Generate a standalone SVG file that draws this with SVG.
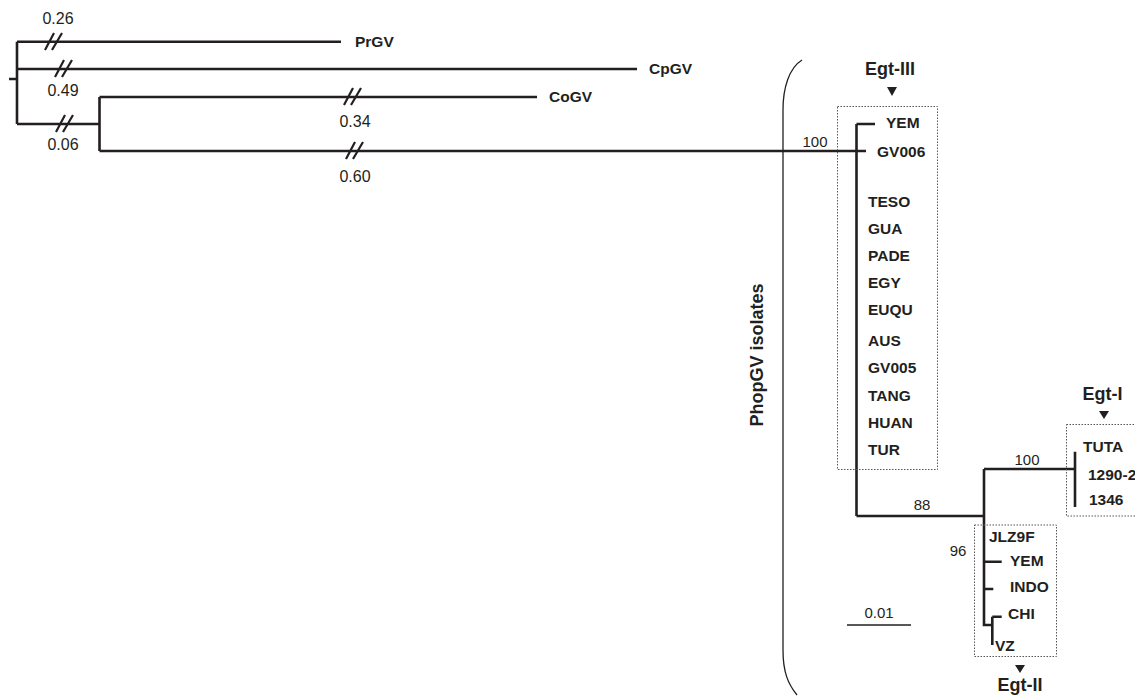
<svg xmlns="http://www.w3.org/2000/svg" width="1135" height="696" viewBox="0 0 1135 696">
<style>
.br{stroke:#231f20;stroke-width:2.6;fill:none;stroke-linecap:butt}
.sl{stroke:#231f20;stroke-width:2.2;fill:none}
.box{stroke:#555;stroke-width:1;fill:none;stroke-dasharray:1.5,1.5}
.num{font-family:"Liberation Sans",Arial,sans-serif;font-size:15px;fill:#231f20}
.bl{font-family:"Liberation Sans",Arial,sans-serif;font-size:16px;fill:#231f20}
.tx{font-family:"Liberation Sans",Arial,sans-serif;font-size:15.5px;font-weight:bold;fill:#231f20}
.big{font-family:"Liberation Sans",Arial,sans-serif;font-size:18px;font-weight:bold;fill:#231f20}
.tri{fill:#231f20}
</style>
<rect width="1135" height="696" fill="#fff"/>
<g id="connectors">
<path class="br" d="M9 79H17M17 41.7V124M17 41.7H341M17 69H637M17 124H99.5M99.5 97V151M99.5 97H537M99.5 151H866"/>
<path class="br" d="M856.5 124V516M856.5 124H875M856.5 516H984M984 469V625H992.3M984 469H1075M1075 451.7V507M984 561.7H1001.7M984 589H993.3M992.3 616.7V645M992.3 616.7H1001.7"/>
<path class="br" d="M847 625H911" style="stroke-width:1.6"/>
<g id="breaks">
<path class="sl" d="M45 50L54 33M52 50L62 33"/>
<path class="sl" d="M55 77L64 60M62 77L72 60"/>
<path class="sl" d="M56 132L65 115M63 132L73 115"/>
<path class="sl" d="M344 105L353 88M351 105L361 88"/>
<path class="sl" d="M346 159L355 142M353 159L363 142"/>
</g>
<path d="M802 60C789 68 783 88 783 110L783 650C783 672 788 684 797 695" stroke="#231f20" stroke-width="1.3" fill="none"/>
</g>
<g id="branch-lengths">
<text class="bl" x="58" y="24" text-anchor="middle">0.26</text>
<text class="bl" x="63" y="96" text-anchor="middle">0.49</text>
<text class="bl" x="63" y="150" text-anchor="middle">0.06</text>
<text class="bl" x="355" y="127" text-anchor="middle">0.34</text>
<text class="bl" x="355" y="182" text-anchor="middle">0.60</text>
</g>
<g id="outgroups">
<text class="tx" x="355" y="47">PrGV</text>
<text class="tx" x="649" y="74">CpGV</text>
<text class="tx" x="549" y="102">CoGV</text>
</g>
<g id="egt-iii">
<rect class="box" x="837.5" y="106.5" width="100" height="363"/>
<text class="big" x="890" y="75" text-anchor="middle">Egt-III</text>
<polygon class="tri" points="887,87 897,87 892,96"/>
<text class="num" x="815" y="147" text-anchor="middle">100</text>
<text class="tx" x="886" y="128">YEM</text>
<text class="tx" x="877" y="157">GV006</text>
<text class="tx" x="868" y="207">TESO</text>
<text class="tx" x="868" y="234">GUA</text>
<text class="tx" x="868" y="261">PADE</text>
<text class="tx" x="868" y="288">EGY</text>
<text class="tx" x="868" y="315">EUQU</text>
<text class="tx" x="868" y="346">AUS</text>
<text class="tx" x="868" y="373">GV005</text>
<text class="tx" x="868" y="401">TANG</text>
<text class="tx" x="868" y="428">HUAN</text>
<text class="tx" x="868" y="455">TUR</text>
</g>
<g id="phopgv-label">
<text class="big" x="763" y="355" text-anchor="middle" transform="rotate(-90 763 355)">PhopGV isolates</text>
</g>
<g id="egt-i">
<rect class="box" x="1066.5" y="424.5" width="80" height="91.5"/>
<text class="big" x="1102.5" y="400" text-anchor="middle">Egt-I</text>
<polygon class="tri" points="1099,411 1109,411 1104,419"/>
<text class="num" x="1027" y="465" text-anchor="middle">100</text>
<text class="tx" x="1083" y="452">TUTA</text>
<text class="tx" x="1088" y="480">1290-2</text>
<text class="tx" x="1089" y="505">1346</text>
</g>
<g id="node-88">
<text class="num" x="922" y="510" text-anchor="middle">88</text>
</g>
<g id="egt-ii">
<rect class="box" x="974.5" y="525" width="82" height="131.5"/>
<text class="num" x="958" y="556" text-anchor="middle">96</text>
<text class="tx" x="989" y="542">JLZ9F</text>
<text class="tx" x="1010" y="566">YEM</text>
<text class="tx" x="1010" y="592">INDO</text>
<text class="tx" x="1008" y="619">CHI</text>
<text class="tx" x="995" y="651">VZ</text>
<polygon class="tri" points="1015,665 1025,665 1020,673"/>
<text class="big" x="1020" y="691" text-anchor="middle">Egt-II</text>
</g>
<g id="scale-bar">
<text class="num" x="879" y="618" text-anchor="middle">0.01</text>
</g>
</svg>
